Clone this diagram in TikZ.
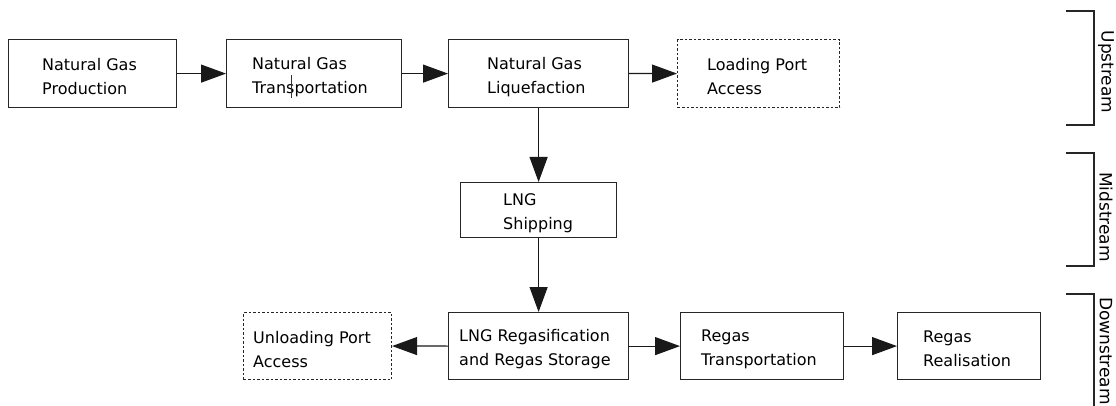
\documentclass[tikz,border=0pt]{standalone}
\usepackage{fontspec}
\setmainfont{DejaVu Sans}
\usetikzlibrary{arrows.meta,calc}

\tikzset{
  box/.style={draw=black!85, line width=1.2pt, anchor=north west, inner sep=0pt},
  dbox/.style={box, dash pattern=on 2.5pt off 2pt, line width=1.1pt},
  lbl/.style={anchor=west, align=left, inner sep=0pt, text=black,
              font=\fontsize{16}{24}\selectfont},
  flow/.style={draw=black!90, line width=1.2pt, -{Triangle[length=25pt,width=18pt]}},
  bracket/.style={draw=black!85, line width=1.2pt},
  stage/.style={rotate=-90, inner sep=0pt, text=black, font=\fontsize{17}{20}\selectfont}
}

\begin{document}
\begin{tikzpicture}[x=1pt, y=-1pt]
\useasboundingbox (0,0) rectangle (1116,406);

% upstream chain
\node[box, minimum width=168pt, minimum height=68pt] (prod) at (8,39) {};
\node[lbl] (prodt) at ($(prod.west)+(34,3)$) {Natural Gas\\Production};

\node[box, minimum width=175pt, minimum height=68pt] (trans) at (226,39) {};
\node[lbl] (transt) at ($(trans.west)+(26,3)$) {Natural Gas\\Transportation};
\draw[black!80, line width=0.8pt] ($(trans.north west)+(65,36)$) coordinate (cura) -- ($(trans.north west)+(65,59)$) coordinate (curb);

\node[box, minimum width=180pt, minimum height=68pt] (liq) at (448,39) {};
\node[lbl] (liqt) at ($(liq.west)+(39,3)$) {Natural Gas\\Liquefaction};

\node[dbox, minimum width=162pt, minimum height=68pt] (lport) at (677,39) {};
\node[lbl] (lportt) at ($(lport.west)+(30,3)$) {Loading Port\\Access};

% midstream
\node[box, minimum width=156pt, minimum height=55pt] (ship) at (460,182) {};
\node[lbl] (shipt) at ($(ship.west)+(43,3)$) {LNG\\Shipping};

% downstream chain
\node[box, minimum width=180pt, minimum height=67pt] (regas) at (448,312) {};
\node[lbl] (regast) at ($(regas.west)+(11,3)$) {LNG Regasification\\and Regas Storage};

\node[dbox, minimum width=148pt, minimum height=67pt] (uport) at (243,312) {};
\node[lbl] (uportt) at ($(uport.west)+(10,3)$) {Unloading Port\\Access};

\node[box, minimum width=163pt, minimum height=67pt] (rtrans) at (680,312) {};
\node[lbl] (rtranst) at ($(rtrans.west)+(21,3)$) {Regas\\Transportation};

\node[box, minimum width=143pt, minimum height=67pt] (real) at (897,312) {};
\node[lbl] (realt) at ($(real.west)+(26,3)$) {Regas\\Realisation};

% connectors
\draw[flow] (prod.east) -- (trans.west);
\draw[flow] (trans.east) -- (liq.west);
\draw[flow] (liq.east) -- (lport.west);
\draw[flow] (liq.south) -- (ship.north);
\draw[flow] (ship.south) -- (regas.north);
\draw[flow] (regas.west) -- (uport.east);
\draw[flow] (regas.east) -- (rtrans.west);
\draw[flow] (rtrans.east) -- (real.west);

% stage brackets
\coordinate (ua) at (1066,11);  \coordinate (ub) at (1094,11);
\coordinate (uc) at (1094,125); \coordinate (ud) at (1066,125);
\draw[bracket] (ua) -- (ub) -- (uc) -- (ud);
\node[stage] (up) at (1106,72) {Upstream};

\coordinate (ma) at (1066,153);  \coordinate (mb) at (1094,153);
\coordinate (mc) at (1094,266);  \coordinate (md) at (1066,266);
\draw[bracket] (ma) -- (mb) -- (mc) -- (md);
\node[stage] (mid) at (1106,217) {Midstream};

\coordinate (da) at (1066,294);  \coordinate (db) at (1094,294);
\coordinate (dc) at (1094,412);
\draw[bracket] (da) -- (db) -- (dc);
\node[stage] (down) at (1106,351) {Downstream};
\end{tikzpicture}
\end{document}
